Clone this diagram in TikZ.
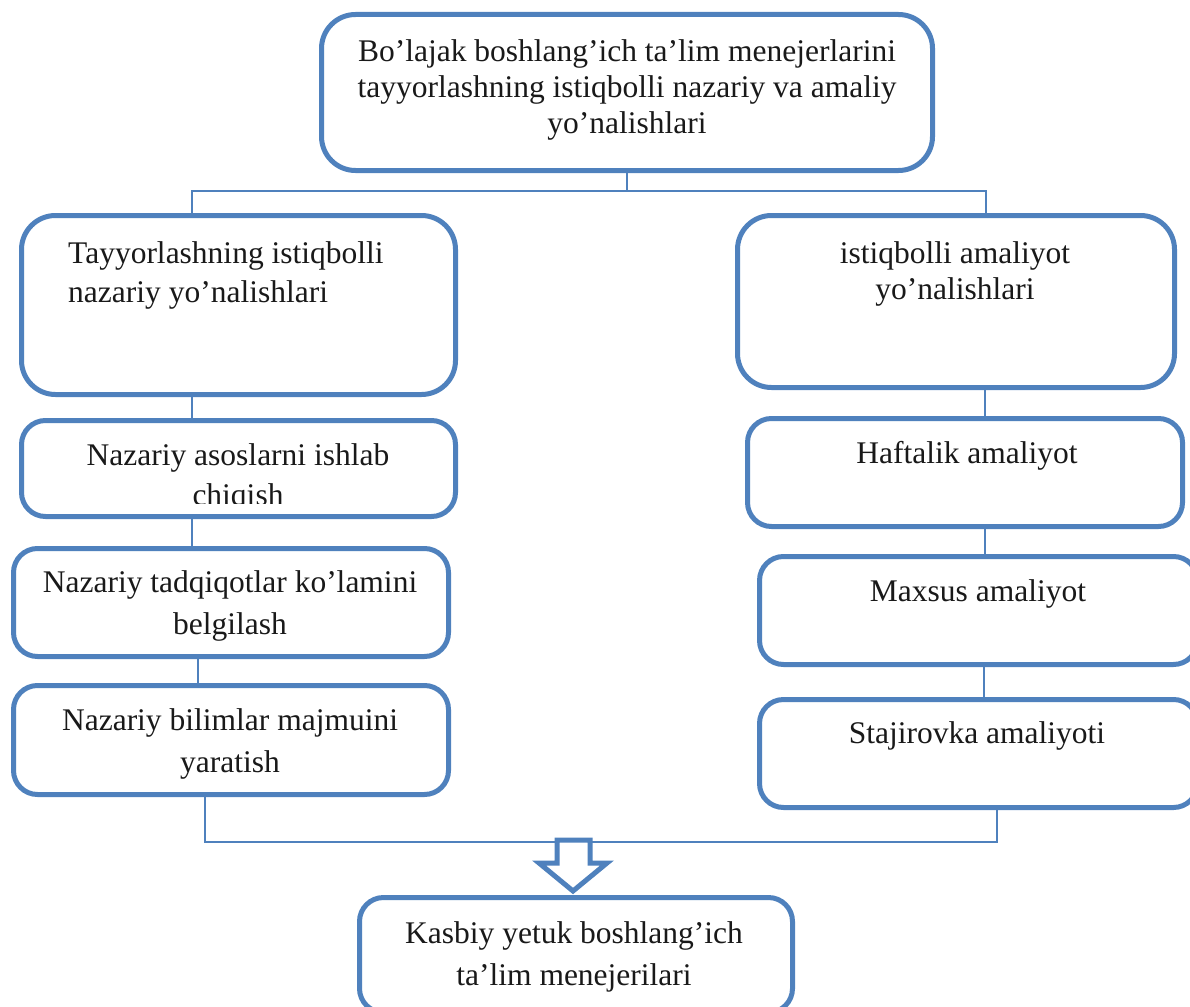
\documentclass[tikz,border=0pt]{standalone}
\usepackage{fontspec}
\setmainfont{Liberation Serif}
\definecolor{ob}{RGB}{79,129,189}
\newcommand\mylines[3]{\fontsize{31.5}{#1}\selectfont\begin{tabular}[t]{@{}#2@{}}#3\end{tabular}}
\begin{document}
\begin{tikzpicture}[x=1pt,y=-1pt,
  box/.style={draw=ob,line width=5pt,rounded corners=#1,inner sep=0pt,fill=white},
  box/.default=24pt,
  conn/.style={draw=ob,line width=1.8pt},
  txt/.style={inner sep=0pt,anchor=base,text=black!90}]
\useasboundingbox (0,0) rectangle (1190,1006);
% connector anchor coordinates
\coordinate (hl) at (192,191);
\coordinate (hr) at (986,191);
\coordinate (cl3) at (198,0);
\coordinate (bl) at (205,842);
\coordinate (br) at (997,842);
\coordinate (cr1) at (985,0);
\coordinate (cr3) at (984,0);
% boxes
\node[box=34pt,minimum width=611pt,minimum height=156pt] (T) at (627,92.5) {};
\node[box=34pt,minimum width=434pt,minimum height=179pt] (L1) at (238.5,305) {};
\node[box,minimum width=434pt,minimum height=96pt] (L2) at (238.5,468.5) {};
\node[box,minimum width=435pt,minimum height=108pt] (L3) at (231,602.5) {};
\node[box,minimum width=435pt,minimum height=109pt] (L4) at (231,740) {};
\node[box=34pt,minimum width=437pt,minimum height=172pt] (R1) at (956,301.5) {};
\node[box,minimum width=435pt,minimum height=108pt] (R2) at (965,472.5) {};
\node[box,minimum width=438pt,minimum height=108pt] (R3) at (978.5,610.5) {};
\node[box,minimum width=438pt,minimum height=108pt] (R4) at (978.5,753.5) {};
\node[box,minimum width=433pt,minimum height=115pt] (B) at (576,955) {};
% connectors
\draw[conn] (T.south) -- (T.south |- hl);
\draw[conn] (L1.north -| hl) |- (hr) -- (R1.north -| hr);
\draw[conn] (L1.south -| hl) -- (L2.north -| hl);
\draw[conn] (L2.south -| hl) -- (L3.north -| hl);
\draw[conn] (L3.south -| cl3) -- (L4.north -| cl3);
\draw[conn] (L4.south -| bl) -- (bl) -- (br) -- (R4.south -| br);
\draw[conn] (R1.south -| cr1) -- (R2.north -| cr1);
\draw[conn] (R2.south -| cr1) -- (R3.north -| cr1);
\draw[conn] (R3.south -| cr3) -- (R4.north -| cr3);
% block arrow
\draw[draw=ob,line width=5pt,fill=white,line join=miter]
  (557,840) -- (590,840) -- (590,863) -- (607,863) -- (573,891) -- (539,863) -- (557,863) -- cycle;
% texts
\node[txt] (tT) at (627,62) {\mylines{36}{c}{Bo’lajak boshlang’ich ta’lim menejerlarini\\tayyorlashning istiqbolli nazariy va amaliy\\yo’nalishlari}};
\node[txt,anchor=base west] (tL1) at (68,263) {\mylines{39}{l}{Tayyorlashning istiqbolli\\nazariy yo’nalishlari}};
\begin{scope}
\clip (0,418) rectangle (1190,503);
\node[txt] (tL2) at (238,465) {\mylines{40}{c}{Nazariy asoslarni ishlab\\chiqish}};
\end{scope}
\node[txt] (tL3) at (230,592) {\mylines{42}{c}{Nazariy tadqiqotlar ko’lamini\\belgilash}};
\node[txt] (tL4) at (230,730) {\mylines{42}{c}{Nazariy bilimlar majmuini\\yaratish}};
\node[txt] (tR1) at (955,263) {\mylines{36}{c}{istiqbolli amaliyot\\yo’nalishlari}};
\node[txt] (tR2) at (967,463) {\mylines{40}{c}{Haftalik amaliyot}};
\node[txt] (tR3) at (978,601) {\mylines{40}{c}{Maxsus amaliyot}};
\node[txt] (tR4) at (977,743) {\mylines{40}{c}{Stajirovka amaliyoti}};
\node[txt] (tB) at (574,943) {\mylines{42}{c}{Kasbiy yetuk boshlang’ich\\ta’lim menejerilari}};
\end{tikzpicture}
\end{document}
